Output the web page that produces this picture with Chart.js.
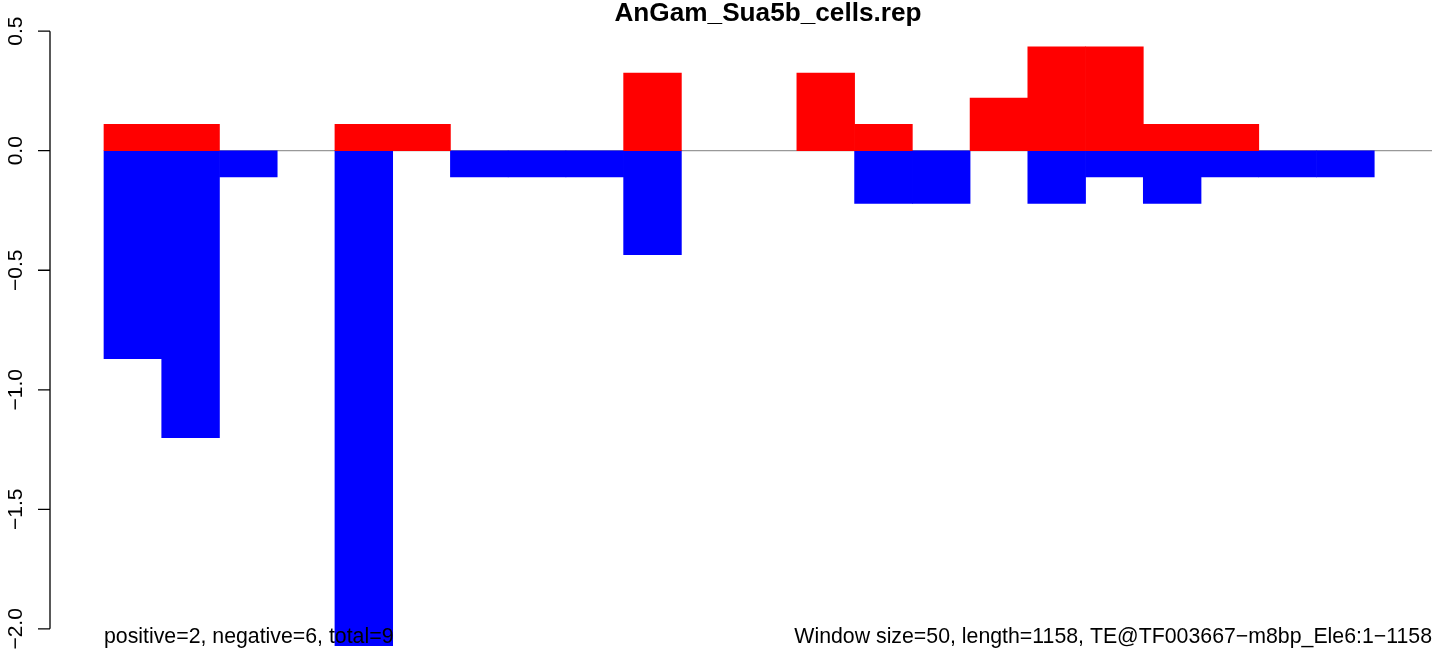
<!DOCTYPE html>
<html>
<head>
<meta charset="utf-8">
<script src="https://cdn.jsdelivr.net/npm/chart.js@4"></script>
<style>
    body { margin: 0; background: #fff; }
    #wrap { width: 1444px; height: 666px; position: relative; }
</style>
</head>
<body>
<div id="wrap"><canvas id="rep-chart"></canvas></div>
<script>
// one bar per 50bp window along the element
const windows = [1, 2, 3, 4, 5, 6, 7, 8, 9, 10, 11, 12, 13, 14, 15, 16, 17, 18, 19, 20, 21, 22, 23];
const positiveValues = [0.11, 0.11, 0, 0, 0.11, 0.11, 0, 0, 0, 0.325, 0, 0, 0.325, 0.11, 0, 0.22, 0.435, 0.435, 0.11, 0.11, 0, 0, 0];
const negativeValues = [-0.87, -1.2, -0.11, 0, -2.07, 0, -0.11, -0.11, -0.11, -0.435, 0, 0, 0, -0.22, -0.22, 0, -0.22, -0.11, -0.22, -0.11, -0.11, -0.11, 0];
const yTicks = [-2.0, -1.5, -1.0, -0.5, 0.0, 0.5];

const titleText = 'AnGam_Sua5b_cells.rep';
const leftNote = 'positive=2, negative=6, total=9';
const rightNote = 'Window size=50, length=1158, TE@TF003667\u2212m8bp_Ele6:1\u22121158';

const FONT = '"Liberation Sans", Arial, Helvetica, sans-serif';

function toPoints(values) {
    // empty windows get no bar at all
    return values.map((v, i) => ({x: windows[i] - 0.5, y: v === 0 ? null : v}));
}

const rAxis = {
    id: 'rAxis',
    beforeDatasetsDraw(chart) {
        const {ctx, scales: {x, y}} = chart;
        ctx.save();
        // zero line across the bars
        ctx.strokeStyle = '#999999';
        ctx.lineWidth = 1.3;
        ctx.beginPath();
        ctx.moveTo(x.getPixelForValue(0), y.getPixelForValue(0));
        ctx.lineTo(x.getPixelForValue(windows.length), y.getPixelForValue(0));
        ctx.stroke();
        ctx.restore();
    },
    afterDraw(chart) {
        const {ctx, scales: {x, y}, chartArea} = chart;
        ctx.save();
        const axisX = chartArea.left;
        ctx.strokeStyle = '#000';
        ctx.lineWidth = 1.3;
        ctx.beginPath();
        ctx.moveTo(axisX, y.getPixelForValue(yTicks[0]));
        ctx.lineTo(axisX, y.getPixelForValue(yTicks[yTicks.length - 1]));
        yTicks.forEach(t => {
            const py = y.getPixelForValue(t);
            ctx.moveTo(axisX, py);
            ctx.lineTo(axisX - 12, py);
        });
        ctx.stroke();

        // rotated tick labels like R's las=0
        ctx.fillStyle = '#000';
        ctx.font = '21px ' + FONT;
        ctx.textAlign = 'center';
        ctx.textBaseline = 'alphabetic';
        yTicks.forEach(t => {
            const py = y.getPixelForValue(t);
            ctx.save();
            ctx.translate(22, py);
            ctx.rotate(-Math.PI / 2);
            ctx.fillText(t.toFixed(1).replace('-', '\u2212'), 0, 0);
            ctx.restore();
        });

        const x0 = x.getPixelForValue(0);
        const x1 = x.getPixelForValue(windows.length);

        ctx.font = 'bold 26.2px ' + FONT;
        ctx.textAlign = 'center';
        ctx.fillText(titleText, (x0 + x1) / 2, 21);

        ctx.font = '21.3px ' + FONT;
        ctx.textAlign = 'left';
        ctx.fillText(leftNote, x0, 643);
        ctx.textAlign = 'right';
        ctx.fillText(rightNote, x1, 643);
        ctx.restore();
    }
};

const ctx = document.getElementById('rep-chart').getContext('2d');
const repChart = new Chart(ctx, {
    type: 'bar',
    data: {
        datasets: [{
            label: 'positive',
            data: toPoints(positiveValues),
            backgroundColor: '#ff0000'
        }, {
            label: 'negative',
            data: toPoints(negativeValues),
            backgroundColor: '#0000ff'
        }]
    },
    options: {
        responsive: true,
        maintainAspectRatio: false,
        animation: false,
        grouped: false,
        barPercentage: 1.0,
        categoryPercentage: 1.0,
        layout: {
            padding: {left: 50, right: 12, top: 24, bottom: 18}
        },
        scales: {
            x: {
                type: 'linear',
                offset: false,
                min: -0.935,
                max: windows.length,
                display: false
            },
            y: {
                min: -2.08,
                max: 0.53,
                display: false
            }
        },
        plugins: {
            legend: {display: false},
            tooltip: {enabled: false}
        }
    },
    plugins: [rAxis]
});
</script>
</body>
</html>
